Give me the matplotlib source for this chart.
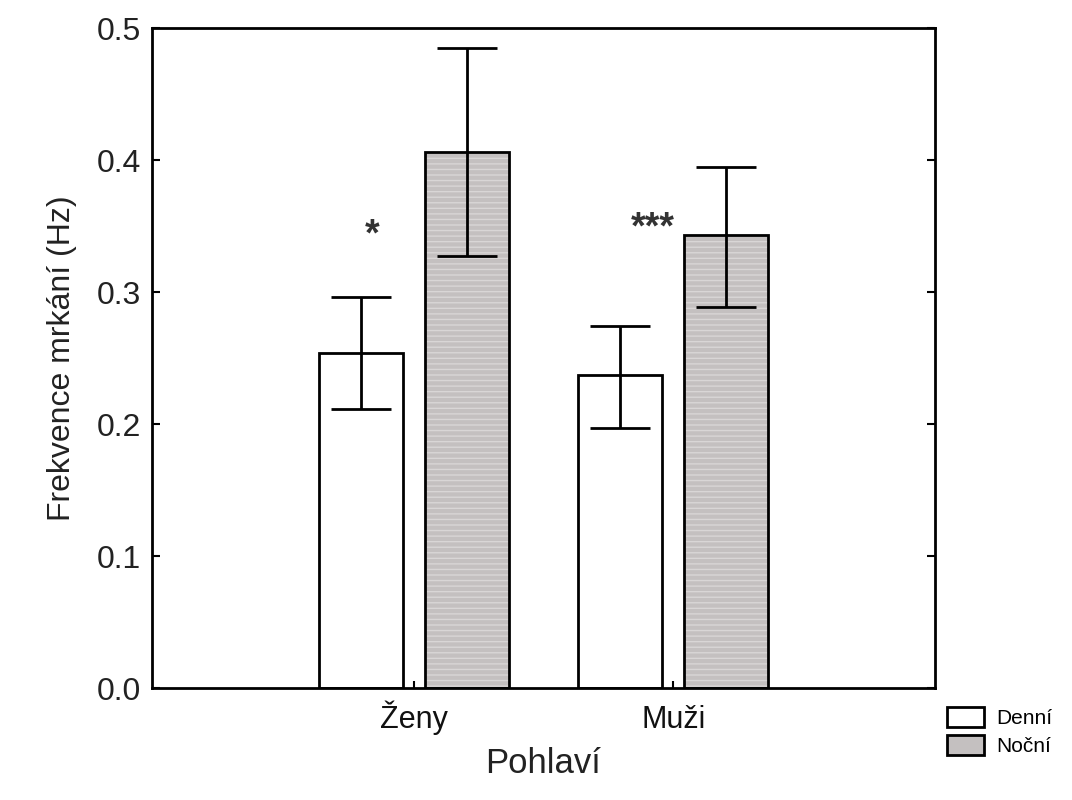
import matplotlib
matplotlib.use("Agg")
import matplotlib.pyplot as plt
import numpy as np
from matplotlib.patches import Patch

categories = ["Ženy", "Muži"]
series_names = ["Denní", "Noční"]
denni = [0.254, 0.237]
nocni = [0.406, 0.343]
denni_low = [0.211, 0.197]
denni_high = [0.296, 0.274]
nocni_low = [0.327, 0.289]
nocni_high = [0.485, 0.395]
sig_labels = ["*", "***"]
sig_y = [0.343, 0.348]
yticks = [0.0, 0.1, 0.2, 0.3, 0.4, 0.5]

plt.rcParams['font.family'] = ['Liberation Sans', 'DejaVu Sans']

fig = plt.figure(figsize=(10.72, 8.0), dpi=100)
ax = fig.add_axes([0.1418, 0.14, 0.7304, 0.825])

x = np.arange(len(categories))
w = 0.324
off = 0.204

ax.bar(x - off, denni, w, color="white", edgecolor="black", linewidth=2, zorder=2)
ax.bar(x + off, nocni, w, color="#c4c0c0", edgecolor="#d9d6d6", hatch="---", linewidth=0, zorder=2)
ax.bar(x + off, nocni, w, color="none", edgecolor="black", linewidth=2, zorder=3)

d = np.array(denni); n = np.array(nocni)
ax.errorbar(x - off, d, yerr=[d - np.array(denni_low), np.array(denni_high) - d],
            fmt="none", ecolor="black", elinewidth=2, capsize=21.5, capthick=2, zorder=4)
ax.errorbar(x + off, n, yerr=[n - np.array(nocni_low), np.array(nocni_high) - n],
            fmt="none", ecolor="black", elinewidth=2, capsize=21.5, capthick=2, zorder=4)

for xi, lab, yy, dx in zip(x, sig_labels, sig_y, [-0.162, -0.08]):
    ax.text(xi + dx, yy, lab, ha="center", va="center", fontsize=27,
            fontweight="bold", color="#333333")

ax.set_xlim(-1.01, 2.01)
ax.set_ylim(0, 0.5)
ax.set_yticks(yticks)
ax.set_yticklabels([f"{t:.1f}" for t in yticks], fontsize=23, color="#222222")
ax.set_xticks(x)
ax.set_xticklabels(categories, fontsize=22, color="#111111")
for lab in ax.get_xticklabels():
    lab.set_verticalalignment("baseline")
ax.tick_params(axis="y", direction="in", length=6, width=1.5, left=True, right=True, pad=8)
ax.tick_params(axis="x", direction="in", length=5, width=1.5, pad=28.8)
for s in ax.spines.values():
    s.set_linewidth(2)

ax.set_ylabel("Frekvence mrkání (Hz)", fontsize=23, color="#222222", labelpad=14)
ax.set_xlabel("Pohlaví", fontsize=25, color="#222222")
ax.xaxis.label.set_verticalalignment("baseline")
ax.xaxis.set_label_coords(0.499, -0.1288)

handles = [Patch(facecolor="white", edgecolor="black", linewidth=2),
           Patch(facecolor="#c4c0c0", edgecolor="black", linewidth=2)]
fig.legend(handles, series_names, loc="upper left", bbox_to_anchor=(0.8834, 0.116),
           frameon=False, fontsize=15, handlelength=1.77, handleheight=1.1,
           handletextpad=0.6, labelspacing=0.33, borderaxespad=0, borderpad=0)

fig.savefig("out.png", dpi=100)
